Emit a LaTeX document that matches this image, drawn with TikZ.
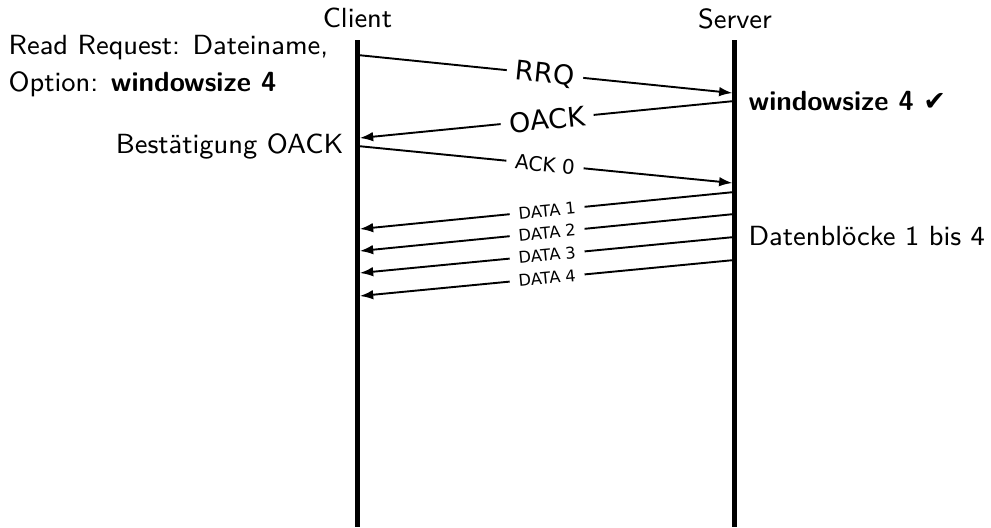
\documentclass[tikz,border=0pt]{standalone}
\usepackage{fontspec}
\newfontfamily\lblfont{DejaVu Sans}
\usetikzlibrary{arrows.meta}

\begin{document}
\begin{tikzpicture}[x=0.314pt,y=-0.314pt,
  lifeline/.style={line width=1.5pt},
  msg/.style={line width=0.6pt,-{Latex[length=4.2pt,width=3pt]}},
  txt/.style={font=\fontsize{8.7}{11.5}\selectfont\sffamily,inner sep=0pt},
  lblbase/.style={fill=white,inner xsep=2.8pt,inner ysep=0.6pt,midway,sloped},
  biglbl/.style={lblbase,font=\lblfont\fontsize{8.5}{9}\selectfont},
  midlbl/.style={lblbase,font=\lblfont\fontsize{6.3}{7}\selectfont},
  smalllbl/.style={lblbase,font=\lblfont\fontsize{5.1}{6}\selectfont}
]
\useasboundingbox (0,0) rectangle (991,527);

% lifelines with their headings
\node[txt,anchor=base] (client) at (357.5,27) {Client};
\node[txt,anchor=base] (server) at (735,28) {Server};
\coordinate (ctop) at (357.5,40);
\coordinate (cbot) at (357.5,527);
\coordinate (stop) at (734.5,40);
\coordinate (sbot) at (734.5,527);
\draw[lifeline] (ctop) -- (cbot);
\draw[lifeline] (stop) -- (sbot);

% message end points on the lifelines
\coordinate (c1) at (357.5,55);   \coordinate (s1) at (732.5,93);
\coordinate (s2) at (734.5,101);  \coordinate (c2) at (359.8,138);
\coordinate (c3) at (357.5,146);  \coordinate (s3) at (732.5,183);
\coordinate (s4) at (734.5,192);  \coordinate (c4) at (359.8,229);
\coordinate (s5) at (734.5,214);  \coordinate (c5) at (359.8,251);
\coordinate (s6) at (734.5,237);  \coordinate (c6) at (359.8,273);
\coordinate (s7) at (734.5,260);  \coordinate (c7) at (359.8,296);

% messages
\draw[msg] (c1) -- node[biglbl] (rrq) {RRQ} (s1);
\draw[msg] (s2) -- node[biglbl] (oack) {OACK} (c2);
\draw[msg] (c3) -- node[midlbl] (ack) {ACK 0} (s3);
\draw[msg] (s4) -- node[smalllbl] (d1) {DATA 1} (c4);
\draw[msg] (s5) -- node[smalllbl] (d2) {DATA 2} (c5);
\draw[msg] (s6) -- node[smalllbl] (d3) {DATA 3} (c6);
\draw[msg] (s7) -- node[smalllbl] (d4) {DATA 4} (c7);

% annotations
\node[txt,anchor=base west] (req1) at (8,54) {Read Request: Dateiname,};
\node[txt,anchor=base west] (req2) at (8,91) {Option: \textbf{windowsize 4}};
\node[txt,anchor=base east] (conf) at (344,153) {Bestätigung OACK};
\node[txt,anchor=base west] (win) at (748,110)
  {\textbf{windowsize 4} {\lblfont\fontsize{8.5}{9}\selectfont ✔}};
\node[txt,anchor=base west] (blocks) at (748,245) {Datenblöcke 1 bis 4};
\end{tikzpicture}
\end{document}
